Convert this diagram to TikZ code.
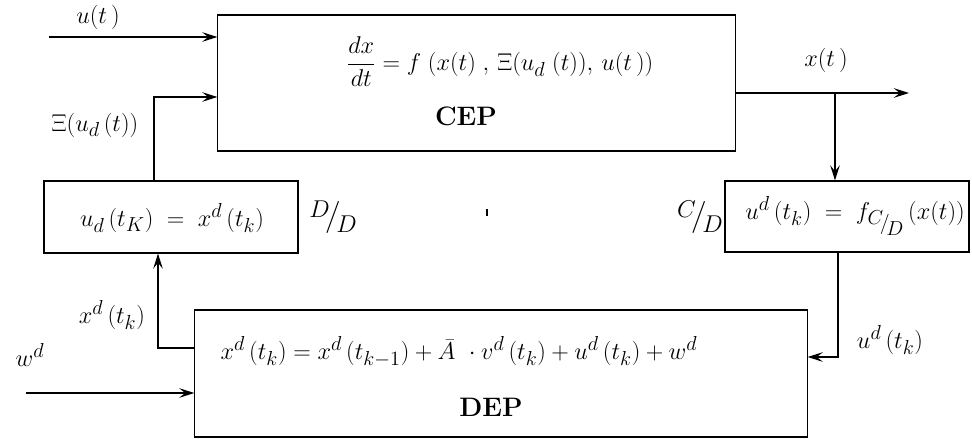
\documentclass[tikz,border=0pt]{standalone}
\usepackage{amsmath,amssymb}
\usepackage{tikz}
\usetikzlibrary{arrows.meta}

\newcommand{\slf}[2]{\raisebox{0.55ex}{$#1$}\!\big/\!\raisebox{-0.75ex}{$#2$}}
\newcommand{\sslf}[2]{\raisebox{0.35ex}{$\scriptstyle #1$}\!/\!\raisebox{-0.55ex}{$\scriptstyle #2$}}

\tikzset{
  blk/.style={draw, line width=0.8pt, inner sep=0pt},
  sig/.style={line width=0.8pt, -{Stealth[length=3.8mm,width=2.4mm,inset=1.5mm]}},
  lbl/.style={font=\fontsize{19}{22}\selectfont, inner sep=1pt},
  ttl/.style={font=\fontsize{19}{22}\selectfont\bfseries, inner sep=1pt},
}

\begin{document}
\begin{tikzpicture}[x=0.025cm, y=-0.025cm]
  % pixel grid of the original, y downwards
  \useasboundingbox (0,0) rectangle (972,439);

  % Blocks
  \node[blk, minimum width=12.925cm, minimum height=3.4cm] (cep) at (476.5,83) {};
  \node[blk, minimum width=6.35cm, minimum height=1.8cm] (ud) at (171,217) {};
  \node[blk, minimum width=6.1cm, minimum height=1.775cm] (cd) at (847,216.5) {};
  \node[blk, minimum width=15.3cm, minimum height=3.175cm] (dep) at (501,373.5) {};

  % Block contents
  \node[lbl] (cepeq) at (500,62) {$\dfrac{dx}{dt} = f\;(x(t)\;,\,\Xi(u_d\;(t)),\,u(t\,))$};
  \node[ttl] (ceptxt) at (466,116) {CEP};
  \node[lbl] (udeq) at (172,218) {$u_d\,(t_K) \;=\; x^d\,(t_k)$};
  \node[lbl] (cdeq) at (855,216) {$u^d\,(t_k) \;=\; f_{\sslf{C}{D}}\,(x(t))$};
  \node[lbl] (depeq) at (459,352) {$x^d\,(t_k) = x^d\,(t_{k-1}) + \bar{A}\ \cdot v^d\,(t_k) + u^d\,(t_k) + w^d$};
  \node[ttl] (deptxt) at (491,407) {DEP};

  % Converter marks
  \node[lbl] (dd) at (333,217) {\slf{D}{D}};
  \node[lbl] (cdm) at (700,217) {\slf{C}{D}};
  \draw[line width=1pt] (487,209) -- (487,216);

  % Signals
  \coordinate (uin) at (49,37);
  \draw[sig] (uin) -- (uin -| cep.west);
  \node[lbl] (ulbl) at (98,17) {$u(t\,)$};

  \coordinate (xiup) at (154,97);
  \draw[sig] (ud.north -| xiup) |- (xiup -| cep.west);
  \node[lbl] (xilbl) at (95,125) {$\Xi(u_d\,(t))$};

  \coordinate (xout) at (909,93);
  \draw[sig] (xout -| cep.east) -- (xout);
  \node[lbl] (xlbl) at (826,60) {$x(t\,)$};

  \coordinate (xbr) at (835,93);
  \draw[sig] (xbr) -- (xbr |- cd.north);

  \coordinate (udk) at (838,357);
  \draw[sig] (cd.south -| udk) |- (udk -| dep.east);
  \node[lbl] (udklbl) at (890,340) {$u^d\,(t_k)$};

  \coordinate (xdk) at (158,348);
  \draw[sig] (xdk -| dep.west) -| (ud.south -| xdk);
  \node[lbl] (xdklbl) at (112,315) {$x^d\,(t_k)$};

  \coordinate (win) at (26,393);
  \draw[sig] (win) -- (win -| dep.west);
  \node[lbl] (wlbl) at (30,355) {$w^d$};
\end{tikzpicture}
\end{document}
